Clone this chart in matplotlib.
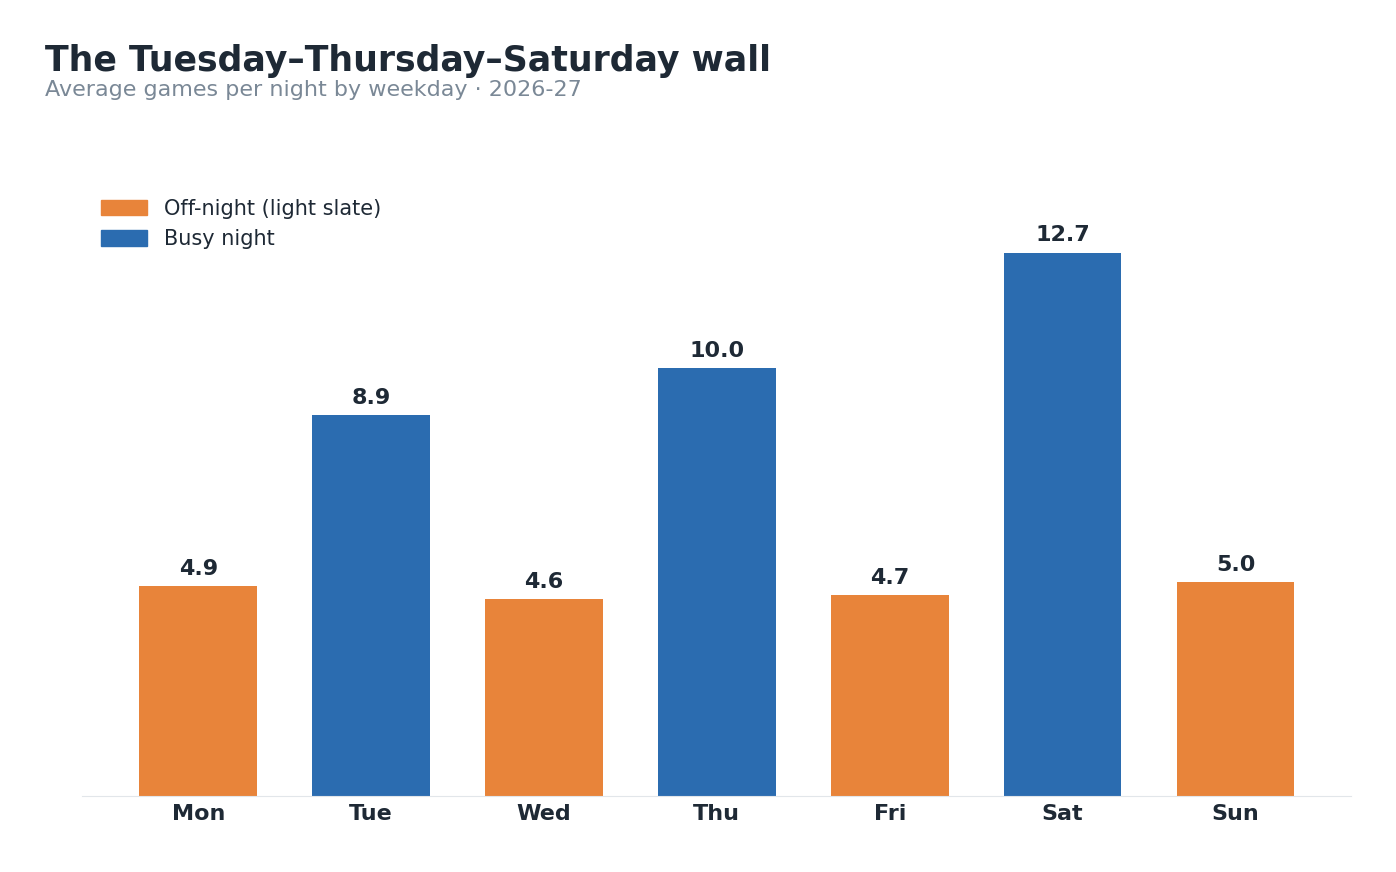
import matplotlib
matplotlib.use("Agg")
import matplotlib.pyplot as plt
from matplotlib.patches import Patch

days = ["Mon", "Tue", "Wed", "Thu", "Fri", "Sat", "Sun"]
games = [4.9, 8.9, 4.6, 10.0, 4.7, 12.7, 5.0]
busy = [False, True, False, True, False, True, False]

ORANGE = "#E8843A"
BLUE = "#2B6CB0"
DARK = "#1E2935"

fig = plt.figure(figsize=(13.96, 8.72), dpi=100)
ax = fig.add_axes([0.059, 0.087, 0.909, 0.736])

colors = [BLUE if b else ORANGE for b in busy]
bars = ax.bar(range(len(days)), games, width=0.68, color=colors)
for b, v in zip(bars, games):
    ax.text(b.get_x() + b.get_width() / 2, v + 0.17, f"{v:.1f}", ha="center", va="bottom",
            fontsize=16, fontweight="bold", color=DARK)

ax.set_xlim(-0.67, 6.67)
ax.set_ylim(0, 15)
ax.set_xticks(range(len(days)))
ax.set_xticklabels(days, fontsize=16, fontweight="bold", color=DARK)
ax.tick_params(axis="x", length=0, pad=6)
ax.set_yticks([])
for s in ["top", "right", "left"]:
    ax.spines[s].set_visible(False)
ax.spines["bottom"].set_color("#E2E6EA")

handles = [Patch(color=ORANGE, label="Off-night (light slate)"), Patch(color=BLUE, label="Busy night")]
leg = ax.legend(handles=handles, loc="upper left", bbox_to_anchor=(0.0, 0.96), frameon=False,
                fontsize=15, handlelength=2.2, handleheight=0.8)
for t in leg.get_texts():
    t.set_color(DARK)

fig.text(0.032, 0.93, "The Tuesday\u2013Thursday\u2013Saturday wall", fontsize=25, fontweight="bold",
         color=DARK, va="center")
fig.text(0.032, 0.897, "Average games per night by weekday \u00b7 2026-27", fontsize=16,
         color="#7A8896", va="center")

fig.savefig("out.png", dpi=100)
